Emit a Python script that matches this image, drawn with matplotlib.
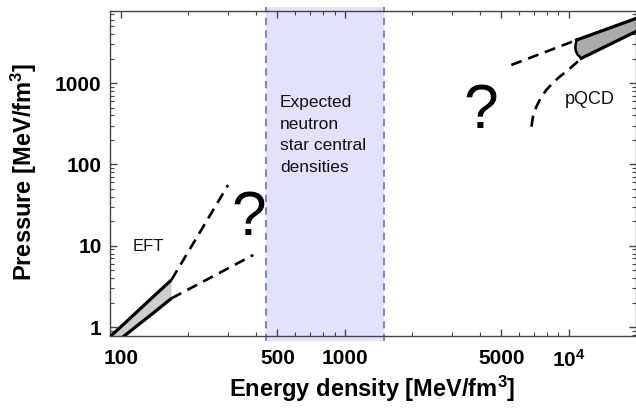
import matplotlib
matplotlib.use("Agg")
import matplotlib.pyplot as plt
import matplotlib.transforms as mtransforms
from matplotlib.patches import Rectangle

plt.rcParams['font.family'] = ['Liberation Sans', 'DejaVu Sans']
plt.rcParams['mathtext.fontset'] = 'custom'
plt.rcParams['mathtext.rm'] = 'Liberation Sans:bold'
plt.rcParams['mathtext.bf'] = 'Liberation Sans:bold'
plt.rcParams['mathtext.default'] = 'bf'

# ---------------- data ----------------
# EFT band (low density)
eft_eps_hi = [89, 100, 120, 140, 168]
eft_p_hi = [0.753, 1.01, 1.61, 2.39, 3.79]
eft_eps_lo = [90, 102, 120, 140, 168]
eft_p_lo = [0.57, 0.753, 1.075, 1.50, 2.25]

# dashed extrapolations from EFT
eft_ext_hi_eps = [168, 301]
eft_ext_hi_p = [3.79, 55.8]
eft_ext_lo_eps = [168, 390]
eft_ext_lo_p = [2.25, 7.69]

# pQCD band (high density)
pqcd_eps_hi = [10856, 13000, 16000, 21000]
pqcd_p_hi = [3388, 4057, 4993, 6550]
pqcd_eps_lo = [11400, 13000, 16000, 21000]
pqcd_p_lo = [2018, 2410, 3190, 4600]
pqcd_edge_eps = [11400, 10950, 10760, 10720, 10760, 10856]
pqcd_edge_p = [2018, 2250, 2500, 2750, 3050, 3388]

# dashed extrapolations from pQCD
pqcd_ext_hi_eps = [5546, 10856]
pqcd_ext_hi_p = [1670, 3388]
pqcd_ext_lo_eps = [6820, 6942, 7180, 7499, 7950, 8489, 9120, 9897, 10622, 11400]
pqcd_ext_lo_p = [291, 394, 513, 656, 823, 1002, 1199, 1429, 1698, 2018]

# expected neutron-star central densities
ns_eps_range = [445, 1490]

# ticks
x_ticks = [100, 500, 1000, 5000, 10000]
x_tick_labels = ['100', '500', '1000', '5000', '10$^{4}$']
y_ticks = [1, 10, 100, 1000]
y_tick_labels = ['1', '10', '100', '1000']

# ---------------- figure ----------------
fig = plt.figure(figsize=(6.36, 4.12), dpi=100)
ax = fig.add_axes([110/636, 1-336/412, 525.5/636, 325.5/412])
ax.set_xscale('log')
ax.set_yscale('log')

# blue band
trans = mtransforms.blended_transform_factory(ax.transData, ax.transAxes)
ax.add_patch(Rectangle((ns_eps_range[0], -0.015), ns_eps_range[1]-ns_eps_range[0], 1.025,
                       transform=trans, facecolor='#e2e2fb', edgecolor='none',
                       clip_on=False, zorder=0))
for xv in ns_eps_range:
    ax.plot([xv, xv], [-0.015, 1.01], transform=trans, color='#7474f0', lw=1.3,
            linestyle=(0, (4, 3)), clip_on=False, zorder=1)

# EFT band
ax.fill(eft_eps_hi + eft_eps_lo[::-1], eft_p_hi + eft_p_lo[::-1],
        facecolor='#cdcdcd', edgecolor='none', zorder=2)
ax.plot(eft_eps_hi, eft_p_hi, color='black', lw=2.3, zorder=3, solid_capstyle='butt')
ax.plot(eft_eps_lo, eft_p_lo, color='black', lw=2.3, zorder=3, solid_capstyle='butt')

dash = (0, (4.2, 2.6))
ax.plot(eft_ext_hi_eps, eft_ext_hi_p, color='black', lw=1.9, linestyle=dash, zorder=3)
ax.plot(eft_ext_lo_eps, eft_ext_lo_p, color='black', lw=1.9, linestyle=dash, zorder=3)

# pQCD band
ax.fill(pqcd_eps_hi + pqcd_eps_lo[::-1] + pqcd_edge_eps,
        pqcd_p_hi + pqcd_p_lo[::-1] + pqcd_edge_p,
        facecolor='#ababab', edgecolor='none', zorder=2)
ax.plot(pqcd_eps_hi, pqcd_p_hi, color='black', lw=2.3, zorder=3)
ax.plot(pqcd_eps_lo, pqcd_p_lo, color='black', lw=2.3, zorder=3)
ax.plot(pqcd_edge_eps, pqcd_edge_p, color='black', lw=1.8, zorder=3)

ax.plot(pqcd_ext_hi_eps, pqcd_ext_hi_p, color='black', lw=1.9, linestyle=dash, zorder=3)
ax.plot(pqcd_ext_lo_eps, pqcd_ext_lo_p, color='black', lw=1.9, linestyle=dash, zorder=3)

# texts
ax.text(132, 9.9, 'EFT', fontsize=12, ha='center', va='center', color='#111111')
ax.text(12420, 620, 'pQCD', fontsize=13, ha='center', va='center', color='#111111')
ax.text(513, 714, 'Expected\nneutron\nstar central\ndensities', fontsize=12.5,
        ha='left', va='top', linespacing=1.55, color='#111111')
ax.text(373, 13.5, '?', fontsize=45, ha='center', va='baseline')
ax.text(4045, 280, '?', fontsize=45, ha='center', va='baseline')

# ticks
minor_x = [k * 10**d for d in (2, 3, 4) for k in range(2, 10) if k * 10**d not in x_ticks]
minor_y = [k * 10**d for d in (-1, 0, 1, 2, 3) for k in range(2, 10)]
ax.set_xticks(x_ticks, labels=x_tick_labels, fontsize=15, fontweight='bold')
ax.set_xticks(minor_x, minor=True)
ax.set_xticklabels([], minor=True)
ax.set_yticks(y_ticks, labels=y_tick_labels, fontsize=15, fontweight='bold')
ax.set_yticks(minor_y, minor=True)
ax.set_yticklabels([], minor=True)
ax.set_xlim(89.3, 19900)
ax.set_ylim(0.775, 7816)

ax.tick_params(which='both', direction='in', top=True, right=True, color='#444444')
ax.tick_params(which='major', length=5, width=1)
ax.tick_params(which='minor', length=3, width=0.8)
ax.tick_params(axis='x', which='major', pad=9)
ax.tick_params(axis='y', which='major', pad=6)
for sp in ax.spines.values():
    sp.set_color('#444444')
    sp.set_linewidth(1.0)

ax.set_xlabel('Energy density [MeV/fm$^{3}$]', fontsize=17, fontweight='bold')
ax.set_ylabel('Pressure [MeV/fm$^{3}$]', fontsize=17, fontweight='bold')
ax.xaxis.set_label_coords(0.498, -0.117)
ax.yaxis.set_label_coords(-0.136, 0.504)

fig.savefig('out.png', dpi=100)
